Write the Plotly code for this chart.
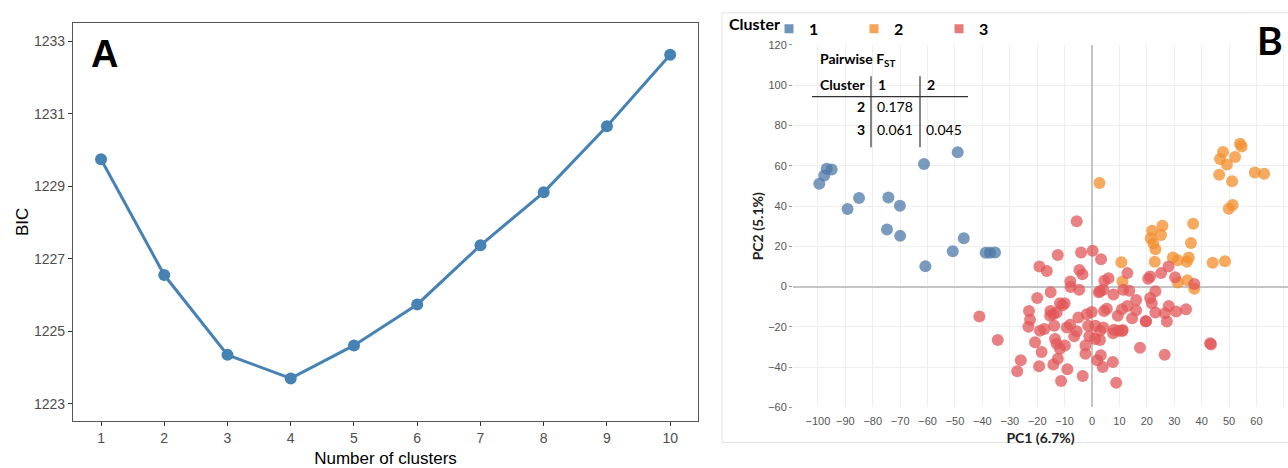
import plotly.graph_objects as go

W, H = 1288, 468

# ---------------- Panel A data ----------------
n_clusters = [1, 2, 3, 4, 5, 6, 7, 8, 9, 10]
bic = [1229.74, 1226.55, 1224.35, 1223.70, 1224.61, 1225.74, 1227.37, 1228.83, 1230.65, 1232.62]
bic_ticks = [1223, 1225, 1227, 1229, 1231, 1233]

# ---------------- Panel B data ----------------
c1_pc1 = [-99.5, -97.7, -96.8, -95.0, -89.2, -85.0, -74.3, -70.1, -74.8, -70.0,
          -61.3, -60.8, -49.0, -50.8, -46.8, -38.8, -37.2, -35.4]
c1_pc2 = [51.1, 55.2, 58.5, 58.2, 38.6, 44.0, 44.3, 40.2, 28.4, 25.2,
          60.9, 10.1, 66.7, 17.6, 24.0, 16.8, 16.8, 17.0]

c2_pc1 = [54.0, 54.6, 47.8, 46.7, 49.2, 52.2, 46.4, 51.1, 59.4, 62.8, 49.9, 51.3,
          2.7, 36.9, 25.7, 21.9, 25.2, 21.4, 22.4, 23.1, 36.1, 29.5, 31.3, 35.3,
          34.6, 22.9, 10.7, 44.0, 48.5, 11.1, 31.3, 34.8, 37.3]
c2_pc2 = [70.9, 69.6, 66.8, 63.4, 60.6, 64.4, 55.6, 52.3, 56.7, 56.0, 38.7, 40.5,
          51.5, 31.2, 30.2, 27.8, 25.6, 24.0, 21.4, 18.5, 21.7, 14.4, 13.1, 14.4,
          12.3, 12.3, 12.1, 11.9, 12.6, 2.5, 2.0, 3.1, -1.1]

c3_pc1 = [-19.2, -16.5, -12.5, -4.0, 0.2, 3.3, -5.6, -4.6, -3.5, -7.9, -7.8, -4.7,
          -15.1, -20.0, -41.1, -34.4, 4.5, 6.0, 2.9, 4.1, 2.5, 7.8, 11.4, 13.6,
          12.9, 16.1, 21.2, 20.5, 25.2, 27.9, 30.3, 23.1, 21.2, 21.8, 28.0, 23.1,
          26.6, 30.7, 34.3, 27.3, 19.7, 14.6, 16.1, 12.9, 10.9, 9.4, 5.4, 4.4,
          -0.1, -1.9, -5.0, -10.0, -11.7, -10.8, -15.2, -14.1, -15.3, -12.9, -23.0,
          -22.6, -23.2, -19.0, -17.4, -13.8, -9.2, -8.0, -5.6, -6.5, -1.4, 1.2,
          4.1, 2.9, 8.0, 9.6, 11.2, -1.0, 1.1, 2.9, -13.5, -12.9, -11.7, -9.9,
          -20.8, -18.4, -26.0, -27.3, -19.3, -14.1, -12.5, -9.0, -11.3, -3.4,
          -2.4, -2.4, 3.2, 1.9, 3.9, 7.6, 8.8, 17.5, 26.5, 43.1, 43.4, 37.3,
          7.7, 11.0, 19.6]
c3_pc2 = [10.0, 7.8, 15.7, 17.0, 17.8, 13.6, 32.5, 8.3, 6.2, 2.6, -0.2, -1.5,
          -2.8, -5.6, -14.9, -26.5, 2.9, 4.2, -2.3, -1.5, -2.8, -3.9, -1.5, -2.0,
          6.7, -6.7, 5.0, 3.9, 6.7, 10.0, 4.6, -2.3, -5.6, -8.3, -9.6, -12.9,
          -13.2, -12.3, -11.3, -17.3, -17.2, -15.7, -11.8, -9.6, -11.3, -14.5, -11.0, -12.1,
          -12.6, -13.7, -15.4, -8.3, -8.3, -9.3, -12.1, -13.7, -14.5, -12.9, -12.1,
          -16.5, -19.9, -21.9, -21.1, -19.4, -20.3, -19.0, -22.2, -24.7, -19.4, -19.4,
          -20.3, -21.9, -21.4, -21.9, -21.6, -24.7, -26.0, -26.5, -26.0, -28.4, -30.9, -29.3,
          -27.6, -32.5, -36.6, -42.0, -39.6, -38.7, -35.8, -41.0, -46.9, -44.4,
          -33.3, -29.3, -34.1, -36.6, -39.9, -37.4, -47.7, -30.4, -33.8, -28.1, -28.8, 1.3,
          -23.2, -22.0, -17.2]

cluster_names = ["1", "2", "3"]
cluster_colors = ["#4E79A7", "#F28E2B", "#E15759"]

fst_title = "Pairwise F<sub>ST</sub>"
fst_header = ["Cluster", "1", "2"]
fst_rows = [["2", "0.178", ""], ["3", "0.061", "0.045"]]

x_ticks_b = list(range(-100, 71, 10))
y_ticks_b = list(range(-60, 121, 20))


def px(x):
    return x / W


def py(y):
    return 1 - y / H


fig = go.Figure()

# Panel A
fig.add_trace(go.Scatter(
    x=n_clusters, y=bic, mode="lines+markers",
    line=dict(color="#4682B4", width=3),
    marker=dict(color="#4682B4", size=12),
    xaxis="x", yaxis="y", showlegend=False))

# Panel B scatter
for name, xs, ys, col in zip(cluster_names, [c1_pc1, c2_pc1, c3_pc1],
                             [c1_pc2, c2_pc2, c3_pc2], cluster_colors):
    fig.add_trace(go.Scatter(
        x=xs, y=ys, mode="markers",
        marker=dict(color=col, size=12, opacity=0.75, line=dict(width=0)),
        xaxis="x2", yaxis="y2", showlegend=False, name=name))
# legend entries (square keys)
for name, col in zip(cluster_names, cluster_colors):
    fig.add_trace(go.Scatter(
        x=[None], y=[None], mode="markers", name="<b>%s</b>" % name,
        marker=dict(color=col, size=9, symbol="square", opacity=0.8),
        xaxis="x2", yaxis="y2", showlegend=True))

axis_a_common = dict(showline=True, mirror=True, linecolor="#555555", linewidth=1.3,
                     ticks="outside", ticklen=4, tickcolor="#333333", tickwidth=1,
                     showgrid=False, zeroline=False,
                     tickfont=dict(family="Liberation Sans, Arial", size=14, color="#4d4d4d"))

fig.update_layout(
    width=W, height=H,
    margin=dict(l=0, r=0, t=0, b=0),
    paper_bgcolor="white", plot_bgcolor="white",
    font=dict(family="Liberation Sans, Arial", color="black"),
    xaxis=dict(domain=[px(73), px(698)], range=[0.557, 10.44], tickvals=n_clusters,
               title=dict(text="Number of clusters", standoff=8,
                          font=dict(size=17, color="black")),
               anchor="y", **axis_a_common),
    yaxis=dict(domain=[py(426), py(17)], range=[1222.525, 1233.51], tickvals=bic_ticks,
               title=dict(text="BIC", standoff=0, font=dict(size=17, color="black")),
               anchor="x", **axis_a_common),
    xaxis2=dict(domain=[px(793), 1.0], range=[-109.1, 71.5], tickvals=x_ticks_b,
                showgrid=True, gridcolor="#eeeeee", gridwidth=1,
                zeroline=True, zerolinecolor="#c4c4c4", zerolinewidth=2,
                showline=False, ticks="", ticklabelstandoff=6,
                tickfont=dict(family="Liberation Sans, Arial", size=11, color="#555555"),
                title=dict(text="<b>PC1 (6.7%)</b>", standoff=6,
                           font=dict(family="Lato", size=14, color="#222222")),
                anchor="y2"),
    yaxis2=dict(domain=[py(412), py(40)], range=[-60, 120], tickvals=y_ticks_b,
                showgrid=True, gridcolor="#eeeeee", gridwidth=1,
                zeroline=True, zerolinecolor="#c4c4c4", zerolinewidth=2,
                showline=False, ticks="outside", ticklen=3, tickcolor="#999999",
                tickfont=dict(family="Liberation Sans, Arial", size=11, color="#555555"),
                title=dict(text="<b>PC2 (5.1%)</b>", standoff=1,
                           font=dict(family="Lato", size=14, color="#222222")),
                anchor="x2"),
    legend=dict(orientation="h", x=px(769), xanchor="left", y=py(6), yanchor="top",
                font=dict(family="Lato", size=16, color="black"),
                entrywidth=40, entrywidthmode="pixels", itemwidth=30,
                bgcolor="rgba(0,0,0,0)"),
)

shapes = []
# panel B frame
shapes.append(dict(type="rect", xref="paper", yref="paper", x0=px(722), x1=px(1300),
                   y0=py(448), y1=py(7), line=dict(color="#e2e2e2", width=1),
                   fillcolor="rgba(0,0,0,0)", layer="below"))
# white boxes behind table and B label
shapes.append(dict(type="rect", xref="paper", yref="paper", x0=px(794), x1=px(975),
                   y0=py(145), y1=py(41), line=dict(width=0), fillcolor="white",
                   layer="between"))
shapes.append(dict(type="rect", xref="paper", yref="paper", x0=px(1248), x1=px(1290),
                   y0=py(62), y1=py(8), line=dict(width=0), fillcolor="white",
                   layer="between"))
# table rules
shapes.append(dict(type="line", xref="paper", yref="paper", x0=px(812), x1=px(968),
                   y0=py(93), y1=py(93), line=dict(color="#333333", width=1.2)))
for xv in (871, 920):
    shapes.append(dict(type="line", xref="paper", yref="paper", x0=px(xv), x1=px(xv),
                       y0=py(72), y1=py(145), line=dict(color="#333333", width=1.2)))
fig.update_layout(shapes=shapes)

ann = []
tfont = dict(family="Lato", size=14, color="black")
# legend heading
ann.append(dict(text="<b>Cluster</b>", x=px(727), y=py(18), xref="paper", yref="paper",
                xanchor="left", yanchor="middle", showarrow=False,
                font=dict(family="Lato", size=16, color="black")))
ann.append(dict(text="<b>%s</b>" % fst_title, x=px(818), y=py(55), xref="paper", yref="paper",
                xanchor="left", yanchor="middle", showarrow=False, font=tfont))
ann.append(dict(text="<b>%s</b>" % fst_header[0], x=px(818), y=py(81), xref="paper", yref="paper",
                xanchor="left", yanchor="middle", showarrow=False, font=tfont))
ann.append(dict(text="<b>%s</b>" % fst_header[1], x=px(876), y=py(81), xref="paper", yref="paper",
                xanchor="left", yanchor="middle", showarrow=False, font=tfont))
ann.append(dict(text="<b>%s</b>" % fst_header[2], x=px(925), y=py(81), xref="paper", yref="paper",
                xanchor="left", yanchor="middle", showarrow=False, font=tfont))
for row, yy in zip(fst_rows, (103, 127)):
    ann.append(dict(text="<b>%s</b>" % row[0], x=px(867), y=py(yy), xref="paper", yref="paper",
                    xanchor="right", yanchor="middle", showarrow=False, font=tfont))
    ann.append(dict(text=row[1], x=px(875), y=py(yy), xref="paper", yref="paper",
                    xanchor="left", yanchor="middle", showarrow=False, font=tfont))
    if row[2]:
        ann.append(dict(text=row[2], x=px(924), y=py(yy), xref="paper", yref="paper",
                        xanchor="left", yanchor="middle", showarrow=False, font=tfont))
# panel letters
ann.append(dict(text="<b>A</b>", x=px(104.5), y=py(49), xref="paper", yref="paper",
                xanchor="center", yanchor="middle", showarrow=False,
                font=dict(family="Liberation Sans, Arial", size=38, color="black")))
ann.append(dict(text="<b>B</b>", x=px(1270), y=py(35), xref="paper", yref="paper",
                xanchor="center", yanchor="middle", showarrow=False,
                font=dict(family="Lato", size=39, color="black")))
fig.update_layout(annotations=ann)

fig.write_html("out.html")
